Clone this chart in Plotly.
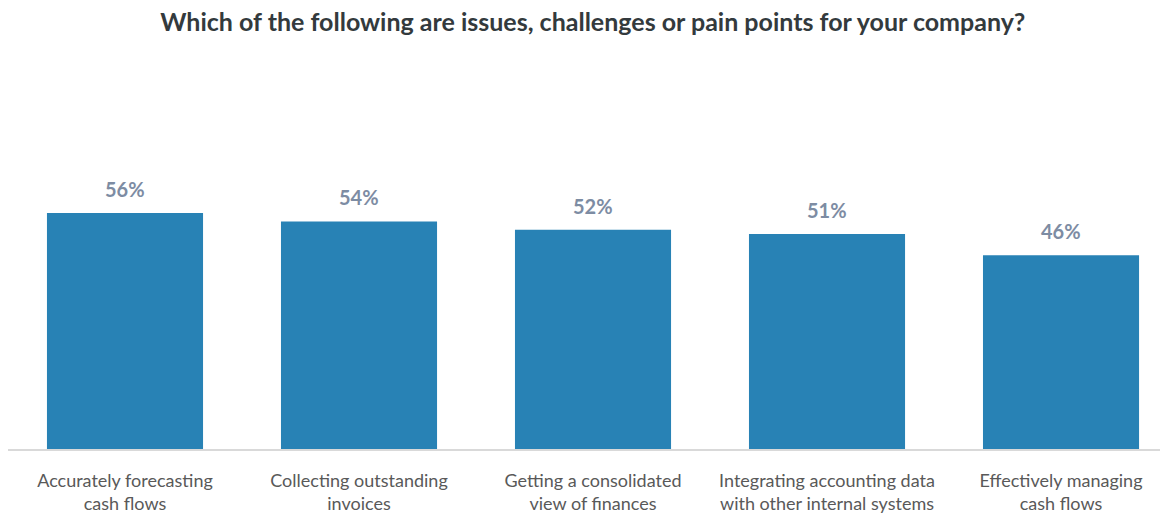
import plotly.graph_objects as go

categories = [
    "Accurately forecasting<br>cash flows",
    "Collecting outstanding<br>invoices",
    "Getting a consolidated<br>view of finances",
    "Integrating accounting data<br>with other internal systems",
    "Effectively managing<br>cash flows",
]
values = [56, 54, 52, 51, 46]
value_labels = [f"{v}%" for v in values]

bar_color = "#2882B5"
label_color = "#7D8CA3"

fig = go.Figure()
fig.add_trace(go.Bar(
    x=categories,
    y=values,
    width=0.667,
    marker=dict(color=bar_color, line=dict(width=0)),
    hoverinfo="skip",
))

for cat, v, lab in zip(categories, values, value_labels):
    fig.add_annotation(
        x=cat, y=v, text=f"<b>{lab}</b>",
        showarrow=False, yanchor="bottom", yshift=10,
        font=dict(family="Lato", size=20, color=label_color),
    )

fig.update_layout(
    width=1167, height=517,
    margin=dict(l=8, r=7, t=60, b=68, autoexpand=False),
    paper_bgcolor="white",
    plot_bgcolor="white",
    showlegend=False,
    title=dict(
        text="<b>Which of the following are issues, challenges or pain points for your company?</b>",
        x=0.508, xanchor="center", y=0.957, yanchor="middle",
        font=dict(family="Lato", size=25, color="#333A3D"),
    ),
    xaxis=dict(
        range=[-0.5, 4.423],
        automargin=False,
        showgrid=False,
        showline=True, linecolor="#D9D9D9", linewidth=2,
        ticks="outside", ticklen=14, tickcolor="rgba(0,0,0,0)",
        tickfont=dict(family="Lato", size=18, color="#595959"),
        fixedrange=True,
    ),
    yaxis=dict(
        range=[0, 92.3],
        visible=False,
        automargin=False,
        fixedrange=True,
    ),
)

fig.write_html("out.html")
